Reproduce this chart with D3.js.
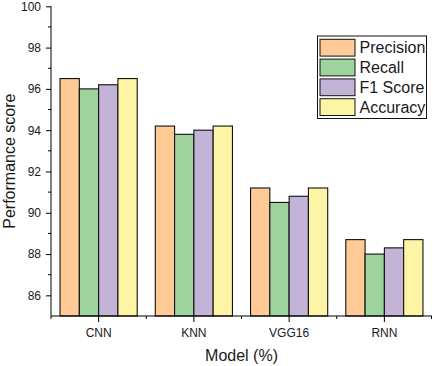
<!DOCTYPE html>
<html>
<head>
<meta charset="utf-8">
<script src="https://cdn.jsdelivr.net/npm/d3@7"></script>
<style>
  body { margin: 0; background: #fff; }
  text { font-family: "Liberation Sans", Arial, sans-serif; fill: #1a1a1a; }
</style>
</head>
<body>
<div id="chart"></div>
<script>
// data
let models = ["CNN", "KNN", "VGG16", "RNN"];
let metrics = ["Precision", "Recall", "F1 Score", "Accuracy"];
let precision = [96.5, 94.2, 91.2, 88.7];
let recall = [96.0, 93.8, 90.5, 88.0];
let f1Score = [96.2, 94.0, 90.8, 88.3];
let accuracy = [96.5, 94.2, 91.2, 88.7];
let yTicks = [86, 88, 90, 92, 94, 96, 98, 100];
let colors = ["#ffca96", "#9fd39e", "#c3b3d7", "#fdf5a5"];

let seriesValues = [precision, recall, f1Score, accuracy];

let w = 433, h = 366;
let margin = { left: 51, right: 1, top: 6.3, bottom: 50 };

let svg = d3.select("#chart")
  .append("svg")
  .attr("width", w)
  .attr("height", h);

let x0 = d3.scaleBand()
  .domain(models)
  .range([margin.left, w - margin.right])
  .paddingInner(0.19)
  .paddingOuter(0.095);

let x1 = d3.scaleBand()
  .domain(metrics)
  .range([0, x0.bandwidth()]);

let y = d3.scaleLinear()
  .domain([85, 100])
  .range([h - margin.bottom, margin.top]);

// bars
let groups = svg.append("g").selectAll("g")
  .data(models)
  .join("g")
  .attr("transform", d => "translate(" + x0(d) + ",0)");

groups.selectAll("rect")
  .data((d, i) => metrics.map((m, j) => ({ metric: m, value: seriesValues[j][i], idx: j })))
  .join("rect")
  .attr("x", d => x1(d.metric))
  .attr("y", d => y(d.value))
  .attr("width", x1.bandwidth())
  .attr("height", d => y(85) - y(d.value))
  .attr("fill", d => colors[d.idx])
  .attr("stroke", "#111")
  .attr("stroke-width", 1.1);

// y axis
let yAxis = svg.append("g")
  .attr("transform", "translate(" + margin.left + ",0)")
  .call(d3.axisLeft(y).tickValues(yTicks).tickSize(5).tickPadding(5).tickFormat(d3.format("d")));
yAxis.selectAll("text").style("font-size", "12px");
yAxis.select(".domain").attr("d", "M0," + y(85) + "V" + y(100));

// minor y ticks
svg.append("g").selectAll("line")
  .data(d3.range(87, 100, 2))
  .join("line")
  .attr("x1", margin.left - 3)
  .attr("x2", margin.left)
  .attr("y1", d => y(d))
  .attr("y2", d => y(d))
  .attr("stroke", "#000");

// x axis
let xAxis = svg.append("g")
  .attr("transform", "translate(0," + y(85) + ")")
  .call(d3.axisBottom(x0).tickSize(6).tickPadding(6));
xAxis.selectAll("text").style("font-size", "12px");
xAxis.select(".domain").attr("d", "M" + margin.left + ",0H" + (w - margin.right));

// boundary ticks between categories
let bounds = [margin.left].concat(models.map(m => x0(m) + x0.bandwidth() + x0.step() * x0.paddingInner() / 2));
svg.append("g").selectAll("line")
  .data(bounds)
  .join("line")
  .attr("x1", d => Math.min(d, w - 1.5))
  .attr("x2", d => Math.min(d, w - 1.5))
  .attr("y1", y(85))
  .attr("y2", y(85) + 3)
  .attr("stroke", "#000");

svg.selectAll(".domain, .tick line").attr("stroke", "#000");

// axis titles
svg.append("text")
  .attr("transform", "translate(15," + ((y(85) + y(100)) / 2) + ") rotate(-90)")
  .attr("text-anchor", "middle")
  .style("font-size", "16px")
  .text("Performance score");

svg.append("text")
  .attr("x", (margin.left + w - margin.right) / 2)
  .attr("y", 361)
  .attr("text-anchor", "middle")
  .style("font-size", "16px")
  .text("Model (%)");

// legend
let legend = svg.append("g").attr("transform", "translate(317.5,36)");
legend.append("rect")
  .attr("width", 109)
  .attr("height", 82.5)
  .attr("fill", "#fff")
  .attr("stroke", "#111")
  .attr("stroke-width", 1);

let items = legend.selectAll("g")
  .data(metrics)
  .join("g")
  .attr("transform", (d, i) => "translate(2.5," + (3.3 + i * 19.8) + ")");
items.append("rect")
  .attr("width", 35)
  .attr("height", 16.8)
  .attr("fill", (d, i) => colors[i])
  .attr("stroke", "#111")
  .attr("stroke-width", 1);
items.append("text")
  .attr("x", 39.5)
  .attr("y", 14.2)
  .style("font-size", "16px")
  .text(d => d);
</script>
</body>
</html>
